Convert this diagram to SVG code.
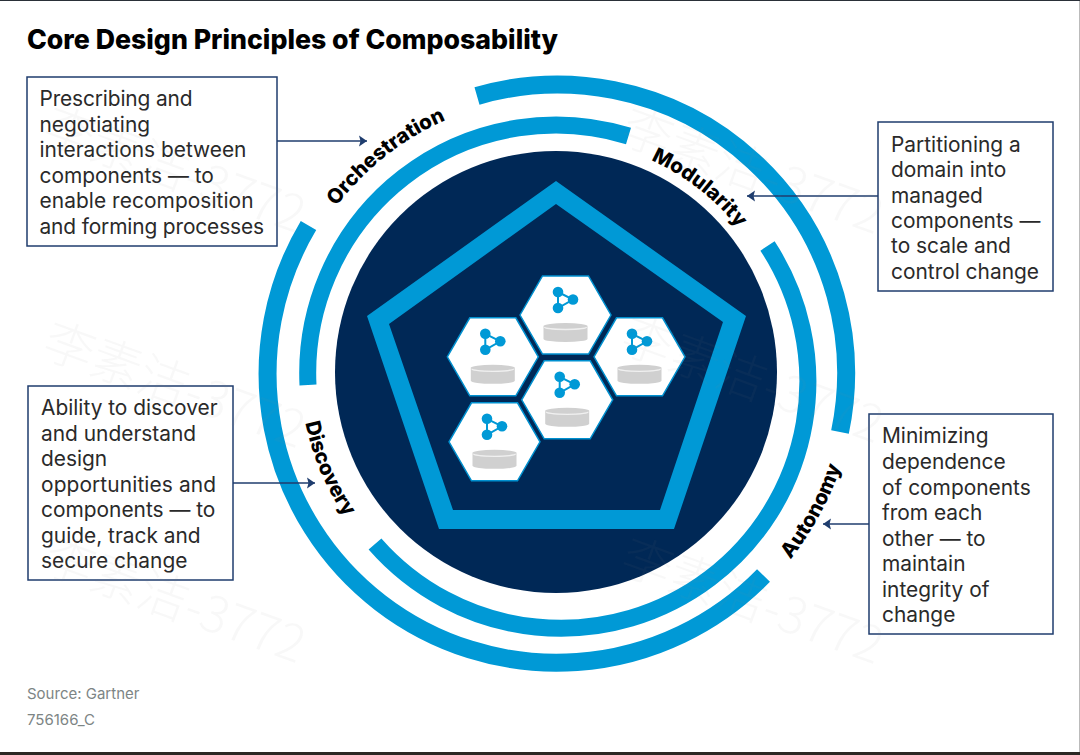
<svg xmlns="http://www.w3.org/2000/svg" width="1080" height="755" viewBox="0 0 1080 755">
<style>
.t{font-family:"Inter","Liberation Sans",sans-serif;font-size:20.9px;fill:#2a2a2a}
.h{font-family:"Inter","Liberation Sans",sans-serif;font-size:26.7px;font-weight:800;fill:#000}
.l{font-family:"Inter","Liberation Sans",sans-serif;font-size:20.5px;font-weight:800;fill:#000;text-anchor:middle}
.s{font-family:"Inter","Liberation Sans",sans-serif;font-size:15px;fill:#7d8585}
.b{fill:#fff;stroke:#1f3d6e;stroke-width:1.5}
.r{fill:none;stroke:#0099d6}
.c{fill:none;stroke:#1f3d6e;stroke-width:1.5}
.hx{fill:#fff;stroke:#0090cf;stroke-width:1.5}
.n{fill:#0099d6}
.k{fill:none;stroke:#0099d6;stroke-width:2}
.d{fill:#d0d0d0}
.e{fill:none;stroke:#f0f0f0;stroke-width:1.3}
.w{font-family:"Noto Sans CJK SC",sans-serif;font-size:50px;font-weight:300;fill:#808080;fill-opacity:.06}
</style>
<defs>
<marker id="ar" markerWidth="9" markerHeight="12" refX="8" refY="6" orient="auto" markerUnits="userSpaceOnUse"><path d="M0 0.500L8 6L0 11.500L1.500 6Z" fill="#1f3d6e"/></marker>
<path id="p-orch" d="M287.100,314.400A275,275 0 0 1 566.100,97.200"/>
<path id="p-mod" d="M544.300,140.300A232,232 0 0 1 782.200,320.200"/>
<path id="p-auto" d="M666,651.100A300,300 0 0 0 850,312.200"/>
<path id="p-disc" d="M311.300,297.200A256,256 0 0 0 440,600"/>
<g id="hexcell">
<polygon class="hx" points="-45.500,0 -23,-39 23,-39 45.500,0 23,39 -23,39"/>
<path class="k" d="M-7.500,-23L7.500,-15.500L-7.500,-7Z"/>
<circle class="n" cx="-7.500" cy="-23" r="5.300"/><circle class="n" cx="7.500" cy="-15.500" r="5.300"/><circle class="n" cx="-7.500" cy="-7" r="5.300"/>
<path class="d" d="M-22,11A22,3 0 0 1 22,11V24A22,3 0 0 1 -22,24Z"/>
<path class="e" d="M-21,12A21,2.500 0 0 0 21,12"/>
</g>
</defs>
<rect width="1080" height="755" fill="#fff"/>
<text class="h" x="27" y="49">Core Design Principles of Composability</text>
<g id="wheel">
<circle cx="556" cy="372" r="221" fill="#002856"/>
<polygon fill="#0099d6" fill-rule="evenodd" points="556,181 746,316 674,529 439,529 367,316 556,181 556,204 389,324 453,510 660,510 723,322 556,204"/>
<path class="r" stroke-width="18" d="M477,96A288.500,288.500 0 0 1 840,432"/>
<path class="r" stroke-width="18" d="M763.500,575.500A289,289 0 0 1 308.500,225.500"/>
<path class="r" stroke-width="17" d="M628.500,136A248,248 0 0 0 308,385"/>
<path class="r" stroke-width="17" d="M767.500,246A247,247 0 0 1 375,544"/>
</g>
<g id="cells">
<use id="cell-top" href="#hexcell" x="565.500" y="315"/>
<use id="cell-left" href="#hexcell" x="492.800" y="356.800"/>
<use id="cell-right" href="#hexcell" x="639.500" y="356.800"/>
<use id="cell-centre" href="#hexcell" x="567.200" y="399.800"/>
<use id="cell-bottom" href="#hexcell" x="494.500" y="441.800"/>
</g>
<g id="connectors">
<path class="c" d="M277,141H367" marker-end="url(#ar)"/>
<path class="c" d="M878,196H747" marker-end="url(#ar)"/>
<path class="c" d="M869,524H823" marker-end="url(#ar)"/>
<path class="c" d="M233,483H315" marker-end="url(#ar)"/>
</g>
<g id="orchestration">
<rect class="b" x="27" y="77" width="250" height="169"/>
<text class="t"><tspan x="39.500" y="106" textLength="153">Prescribing and</tspan><tspan x="39.500" y="131.500">negotiating</tspan><tspan x="39.500" y="157">interactions between</tspan><tspan x="39.500" y="182.500">components — to</tspan><tspan x="39.500" y="208" textLength="214">enable recomposition</tspan><tspan x="39.500" y="233.500" textLength="224.500">and forming processes</tspan></text>
<text class="l"><textPath href="#p-orch" startOffset="49.500%">Orchestration</textPath></text>
</g>
<g id="modularity">
<rect class="b" x="878" y="122" width="175" height="169"/>
<text class="t"><tspan x="891" y="152">Partitioning a</tspan><tspan x="891" y="177">domain into</tspan><tspan x="891" y="202.500">managed</tspan><tspan x="891" y="228">components —</tspan><tspan x="891" y="253">to scale and</tspan><tspan x="891" y="279">control change</tspan></text>
<text class="l"><textPath href="#p-mod" startOffset="51%">Modularity</textPath></text>
</g>
<g id="autonomy">
<rect class="b" x="869" y="414" width="184" height="220"/>
<text class="t"><tspan x="882" y="443">Minimizing</tspan><tspan x="882" y="468.500">dependence</tspan><tspan x="882" y="494.500">of components</tspan><tspan x="882" y="520">from each</tspan><tspan x="882" y="545.500">other — to</tspan><tspan x="882" y="571">maintain</tspan><tspan x="882" y="596.500">integrity of</tspan><tspan x="882" y="622">change</tspan></text>
<text class="l"><textPath href="#p-auto" startOffset="50%">Autonomy</textPath></text>
</g>
<g id="discovery">
<rect class="b" x="28" y="386" width="205" height="194"/>
<text class="t"><tspan x="41" y="415">Ability to discover</tspan><tspan x="41" y="441">and understand</tspan><tspan x="41" y="466">design</tspan><tspan x="41" y="491.500" textLength="175">opportunities and</tspan><tspan x="41" y="517">components — to</tspan><tspan x="41" y="542.500">guide, track and</tspan><tspan x="41" y="568">secure change</tspan></text>
<text class="l"><textPath href="#p-disc" startOffset="50%">Discovery</textPath></text>
</g>
<text class="s" x="27" y="699">Source: Gartner</text>
<text class="s" x="27" y="725">756166_C</text>
<g id="watermarks">
<text class="w" transform="translate(40,140) rotate(20)">李素洁-3772</text>
<text class="w" transform="translate(40,355) rotate(20)">李素洁-3772</text>
<text class="w" transform="translate(40,570) rotate(20)">李素洁-3772</text>
<text class="w" transform="translate(618,141) rotate(20)">李素洁-3772</text>
<text class="w" transform="translate(618,350) rotate(20)">李素洁-3772</text>
<text class="w" transform="translate(618,571) rotate(20)">李素洁-3772</text>
</g>
<g id="frame">
<rect x="0" y="0" width="1080" height="1" fill="#2a3038"/>
<rect x="0" y="752" width="1080" height="3" fill="#2b2723"/>
<rect x="1079" y="1" width="1" height="751" fill="#bbb"/>
</g>
</svg>
